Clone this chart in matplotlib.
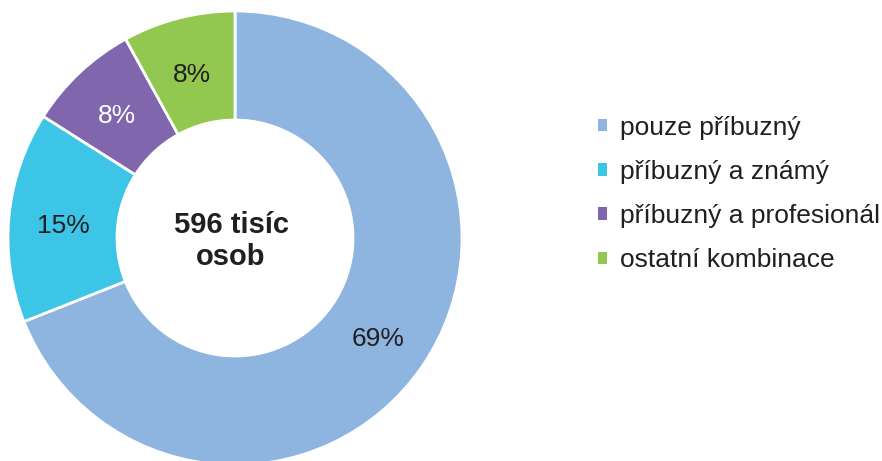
import matplotlib.pyplot as plt
from matplotlib.patches import Patch

plt.rcParams['font.family'] = ['Liberation Sans', 'DejaVu Sans']

# podíly kombinací pečujících osob (%)
labels = ['pouze příbuzný', 'příbuzný a známý', 'příbuzný a profesionál', 'ostatní kombinace']
values = [69, 15, 8, 8]
colors = ['#8EB4E0', '#3CC5E6', '#8066AD', '#92C850']
label_colors = ['#231F20', '#231F20', 'white', '#231F20']
center_text = '596 tisíc\nosob'

fig = plt.figure(figsize=(8.82, 4.61), dpi=100)
ax = fig.add_axes([0, 0, 1, 1])

wedges, texts, autotexts = ax.pie(
    values, colors=colors, startangle=90, counterclock=False,
    center=(235, 223), radius=227,
    autopct=lambda p: f'{p:.0f}%', pctdistance=0.76,
    wedgeprops=dict(width=109, edgecolor='white', linewidth=2),
    textprops=dict(fontsize=19))
for t, c in zip(autotexts, label_colors):
    t.set_color(c)
    x, y = t.get_position()
    t.set_position((x, y - 4))

ax.text(231, 220, center_text, ha='center', va='center', fontsize=21,
        fontweight='bold', color='#231F20', linespacing=1.2)

ax.set_xlim(0, 882)
ax.set_ylim(0, 461)
ax.set_aspect('equal')
ax.axis('off')

handles = [Patch(facecolor=c, edgecolor='none') for c in colors]
ax.legend(handles, labels, loc='center left', bbox_to_anchor=(598, 267),
          bbox_transform=ax.transData, frameon=False, fontsize=19,
          handlelength=0.35, handleheight=0.35, handletextpad=0.5,
          labelspacing=0.77, borderpad=0, borderaxespad=0,
          labelcolor='#231F20')

fig.savefig('out.png', dpi=100)
